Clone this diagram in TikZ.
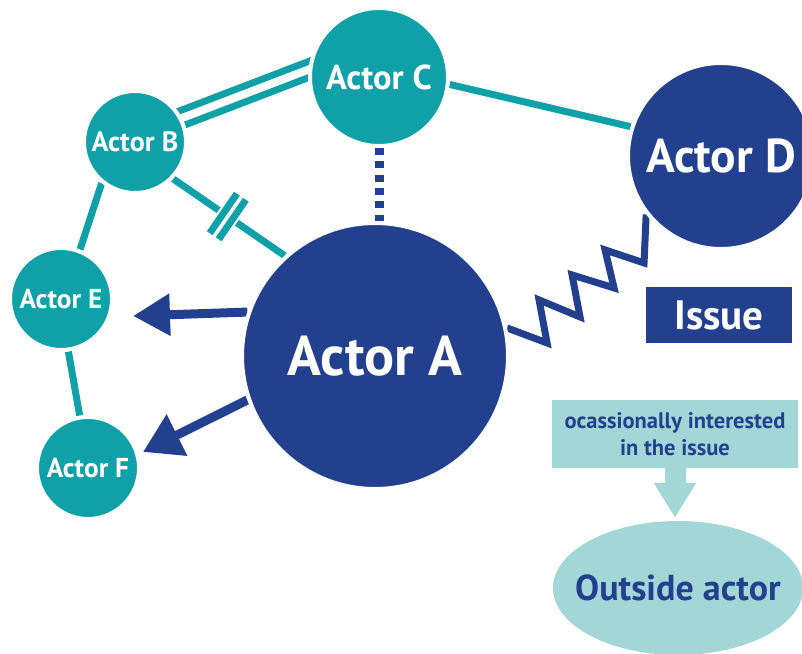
\documentclass[tikz,border=0pt]{standalone}
\usepackage{fontspec}
\setmainfont{PT Sans}
\usetikzlibrary{arrows.meta,backgrounds,calc,shapes.geometric}
\definecolor{teal1}{HTML}{0FA0A8}
\definecolor{navy1}{HTML}{23408E}
\definecolor{light1}{HTML}{A3D7D7}
\newcommand{\fsz}[1]{\fontsize{#1}{#1}\selectfont\bfseries}
\begin{document}
\begin{tikzpicture}[x=1pt,y=-1pt,
  actor/.style={circle,draw=white,line width=4pt,inner sep=0pt,text=white},
  tealactor/.style={actor,fill=teal1},
  navyactor/.style={actor,fill=navy1},
  link/.style={draw=teal1,line width=7pt},
  push/.style={draw=navy1,line width=9pt},
  tick/.style={draw=teal1,line width=7pt},
  tickbg/.style={draw=white,line width=11pt},
]
\useasboundingbox (0,0) rectangle (802,653);
% actors
\node[navyactor,minimum size=266pt,font=\fsz{56}] (A) at (375,356) {Actor A};
\node[tealactor,minimum size=102pt,font=\fsz{28}] (B) at (135,142) {Actor B};
\node[tealactor,minimum size=138pt,font=\fsz{34.5}] (C) at (379,77) {Actor C};
\node[navyactor,minimum size=186pt,font=\fsz{47.5}] (D) at (721,156) {Actor D};
\node[tealactor,minimum size=102pt,font=\fsz{27.3}] (E) at (61,299) {Actor E};
\node[tealactor,minimum size=102pt,font=\fsz{27.3}] (F) at (88,468) {Actor F};
% issue and outside actor
\node[fill=navy1,minimum width=146pt,minimum height=56pt,text=white,font=\fsz{41}] (issue) at (719,315) {Issue};
\node[fill=light1,minimum width=246pt,minimum height=68pt,align=center,text=navy1,font=\fsz{22.5}] (box) at (675,434) {ocassionally interested\\[4pt]in the issue};
\node[ellipse,fill=light1,minimum width=250pt,minimum height=134pt,inner sep=0pt] (out) at (678,588) {};
\node[text=navy1,font=\fsz{36}] (outtext) at (out.center) {Outside actor};
\coordinate (tE) at (133,316);
\coordinate (tF) at (143,452);
\begin{scope}[on background layer]
  % B -- C double line
  \draw[link,double=white,double distance=8pt,shorten <=-12pt,shorten >=-12pt] (B.27) -- (C.174);
  % C -- D
  \draw[link] (C.-6.6) -- (D.162);
  % B -- E, E -- F
  \draw[link] (B.231) -- (E.69);
  \draw[link] (E.-82) -- (F.99);
  % B -- A with break ticks
  \draw[link] (B.-44) -- (A.132);
  \coordinate (m1) at ($(B.-44)!0.45!(A.132)$);
  \coordinate (m2) at ($(B.-44)!0.53!(A.132)$);
  \draw[tickbg] ($(m1)!24pt!90:(A.132)$) -- ($(m1)!24pt!-90:(A.132)$);
  \draw[tickbg] ($(m2)!24pt!90:(A.132)$) -- ($(m2)!24pt!-90:(A.132)$);
  \draw[tick] ($(m1)!24pt!90:(A.132)$) -- ($(m1)!24pt!-90:(A.132)$);
  \draw[tick] ($(m2)!24pt!90:(A.132)$) -- ($(m2)!24pt!-90:(A.132)$);
  % C -- A dotted
  \draw[draw=navy1,line width=9pt,dash pattern=on 7pt off 6.3pt] (C.south) -- (C.south |- A.north);
  % A -- D zigzag
  \draw[draw=navy1,line width=7pt,line join=miter]
    (A.12) -- ++(40,15) -- ++(-8,-43) -- ++(41,17) -- ++(-8,-42)
    -- ++(42,13) -- ++(-9,-38) -- ++(39,13) -- (D.218);
  % arrows from A
  \draw[push,-{Triangle[length=37pt,width=40pt]}] (A.161) -- (tE);
  \draw[push,-{Triangle[length=38pt,width=44pt]}] (A.199) -- (tF);
\end{scope}
% box to outside actor
\draw[draw=light1,line width=21pt,-{Triangle[length=35pt,width=40pt]},shorten >=3pt] (box.south) -- (box.south |- out.north);
\end{tikzpicture}
\end{document}
